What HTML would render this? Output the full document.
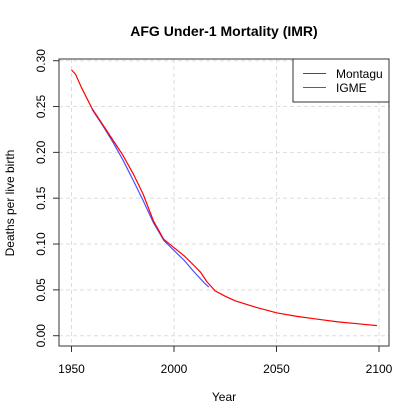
<!DOCTYPE html>
<html><head><meta charset="utf-8"><style>body{margin:0;background:#fff}svg{display:block;font-family:"Liberation Sans",sans-serif}</style></head>
<body>
<svg id="c" width="420" height="420"></svg>
<script>
const montaguYears=[1950,1952,1955,1960,1965,1970,1975,1980,1985,1990,1995,2000,2005,2010,2013,2016,2020,2025,2030,2040,2050,2060,2070,2080,2090,2099];
const montaguValues=[.290,.285,.270,.248,.231,.214,.197,.177,.154,.125,.105,.096,.087,.076,.069,.059,.049,.043,.038,.031,.025,.021,.018,.015,.013,.011];
const igmeYears=[1960,1965,1970,1975,1980,1985,1990,1995,2000,2005,2010,2015,2017];
const igmeValues=[.247,.230,.212,.192,.170,.147,.123,.104,.093,.082,.069,.057,.053];
const xTicks=[1950,2000,2050,2100];
const yTicks=[0,0.05,0.10,0.15,0.20,0.25,0.30];
const yTickLabels=["0.00","0.05","0.10","0.15","0.20","0.25","0.30"];
const NS="http://www.w3.org/2000/svg",svg=document.getElementById('c');
const X=v=>71.5+(v-1950)*(379-71.5)/150, Y=v=>335.7-v*(275/0.3);
const L=59,R=389,T=59,B=346;
function el(t,a,p){const e=document.createElementNS(NS,t);for(const k in a)e.setAttribute(k,a[k]);(p||svg).appendChild(e);return e;}
const grid=el('g',{});


xTicks.forEach(t=>el('line',{x1:X(t),x2:X(t),y1:T,y2:B,stroke:'#ddd','stroke-dasharray':'4,3'},grid));
yTicks.forEach(t=>el('line',{x1:L,x2:R,y1:Y(t),y2:Y(t),stroke:'#ddd','stroke-dasharray':'4,3'},grid));
function line(xs,ys,c,n){const p=el('path',{d:xs.map((x,i)=>(i?'L':'M')+X(x).toFixed(1)+','+Y(ys[i]).toFixed(1)).join(''),fill:'none',stroke:c,'stroke-width':1.2});

}
line(igmeYears,igmeValues,'#4d4dff','igme-line');
line(montaguYears,montaguValues,'#ff0000','montagu-line');
const box=el('rect',{x:L,y:T,width:R-L,height:B-T,fill:'none',stroke:'#333'});


xTicks.forEach(t=>{el('line',{x1:X(t),x2:X(t),y1:B,y2:B+6,stroke:'#333'});
const tx=el('text',{x:X(t),y:373,'text-anchor':'middle','font-size':12});tx.textContent=t;

});
yTicks.forEach((t,i)=>{el('line',{x1:L,x2:L-6,y1:Y(t),y2:Y(t),stroke:'#333'});
const tx=el('text',{x:45,y:Y(t),'text-anchor':'middle','font-size':12,transform:`rotate(-90 45 ${Y(t)})`});tx.textContent=yTickLabels[i];

});
</script>
<svg width="0" height="0"></svg>
<div style="position:absolute;left:0;top:0;width:420px;height:420px;pointer-events:none">
<svg width="420" height="420" style="font-family:'Liberation Sans',sans-serif">
<text x="224" y="36" text-anchor="middle" font-size="14" font-weight="bold">AFG Under-1 Mortality (IMR)</text>
<text x="224" y="401" text-anchor="middle" font-size="12">Year</text>
<text x="14" y="203" text-anchor="middle" font-size="12" transform="rotate(-90 14 203)">Deaths per live birth</text>
<g>
<rect x="293" y="59" width="96" height="43" fill="#fff" stroke="#333"/>
<line x1="303" x2="326" y1="73.5" y2="73.5" stroke="#ff0000"/>
<line x1="303" x2="326" y1="87.5" y2="87.5" stroke="#4d4dff"/>
<text x="336" y="78" font-size="12">Montagu</text>
<text x="336" y="92" font-size="12">IGME</text>
</g>
</svg></div>
</body></html>
